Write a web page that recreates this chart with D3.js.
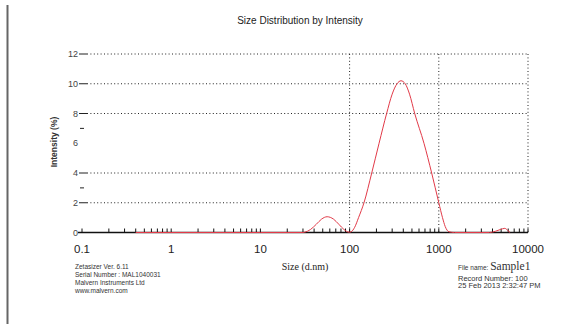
<!DOCTYPE html>
<html>
<head>
<meta charset="utf-8">
<script src="https://cdn.jsdelivr.net/npm/d3@7"></script>
<style>
  body { margin: 0; background: #fff; }
  svg { display: block; }
</style>
</head>
<body>
<svg id="chart" width="573" height="324"></svg>
<script>
// sizes (d.nm) and intensity (%)
const sizes = [0.4, 10, 30, 31.4, 36.4, 42.3, 48.5, 56, 66, 75.8, 86.5, 98.9,
  104, 114, 126, 145, 177, 214, 260, 300, 340, 377, 420, 470, 537, 682, 832,
  1000, 1100, 1180, 1300, 1500, 3700, 4300, 4900, 5500, 5900, 6300];
const intensity = [0, 0, 0, 0.02, 0.2, 0.55, 0.9, 1.06, 0.9, 0.55, 0.2, 0.02,
  0.05, 0.35, 1.0, 2.0, 4.0, 6.0, 8.0, 9.3, 10.0, 10.2, 10.0, 9.3, 8.0, 6.0, 4.0,
  2.0, 1.0, 0.4, 0.05, 0, 0, 0.08, 0.2, 0.28, 0.15, 0];

const xTicks = [0.1, 1, 10, 100, 1000, 10000];
const xTickLabels = ['0.1', '1', '10', '100', '1000', '10000'];
const xGrid = [100, 1000, 10000];
const yLabels = [0, 2, 4, 6, 8, 10, 12];
const yGrid = [2, 4, 8, 10, 12];
const yMinor = [3, 7];

const leftNotes = ['Zetasizer Ver. 6.11', 'Serial Number : MAL1040031',
  'Malvern Instruments Ltd', 'www.malvern.com'];
const rightNotes = ['Record Number: 100', '25 Feb 2013 2:32:47 PM'];

const svg = d3.select('#chart');
const x = d3.scaleLog().domain([0.1, 10000]).range([82, 528]);
const y = d3.scaleLinear().domain([0, 12]).range([232.5, 54]);

// left border
svg.append('line')
  .attr('x1', 7.5).attr('x2', 7.5).attr('y1', 5).attr('y2', 324)
  .attr('stroke', '#666').attr('stroke-width', 2);

svg.append('text')
  .attr('x', 300).attr('y', 24)
  .attr('text-anchor', 'middle')
  .attr('font-family', 'Liberation Sans, Arial, sans-serif')
  .attr('font-size', 10).attr('fill', '#222')
  .text('Size Distribution by Intensity');

// horizontal grid
svg.append('g').selectAll('line')
  .data(yGrid)
  .join('line')
  .attr('x1', x(0.1) + 5).attr('x2', x(10000))
  .attr('y1', d => y(d)).attr('y2', d => y(d))
  .attr('stroke', '#222').attr('stroke-width', 1)
  .attr('stroke-dasharray', '1,2.4');

// vertical grid
svg.append('g').selectAll('line')
  .data(xGrid)
  .join('line')
  .attr('x1', d => x(d)).attr('x2', d => x(d))
  .attr('y1', y(12)).attr('y2', y(0))
  .attr('stroke', '#222').attr('stroke-width', 1)
  .attr('stroke-dasharray', '1,2.4');

// y ticks + labels
const yAxis = svg.append('g');
yAxis.selectAll('line.major')
  .data(yGrid.concat([0]))
  .join('line')
  .attr('class', 'major')
  .attr('x1', x(0.1) - 3).attr('x2', x(0.1) + 5)
  .attr('y1', d => y(d)).attr('y2', d => y(d))
  .attr('stroke', '#222').attr('stroke-width', 1);
yAxis.selectAll('line.minor')
  .data(yMinor)
  .join('line')
  .attr('class', 'minor')
  .attr('x1', x(0.1) - 2).attr('x2', x(0.1) + 2)
  .attr('y1', d => y(d)).attr('y2', d => y(d))
  .attr('stroke', '#222').attr('stroke-width', 1);
yAxis.selectAll('text')
  .data(yLabels)
  .join('text')
  .attr('x', 78).attr('y', d => y(d) + 3)
  .attr('text-anchor', 'end')
  .attr('font-family', 'Liberation Sans, Arial, sans-serif')
  .attr('font-size', 9).attr('fill', '#444')
  .text(d => d);

svg.append('text')
  .attr('transform', 'translate(57,142) rotate(-90)')
  .attr('text-anchor', 'middle')
  .attr('font-family', 'Liberation Sans, Arial, sans-serif')
  .attr('font-size', 8.5).attr('font-weight', 'bold').attr('fill', '#333')
  .text('Intensity (%)');

// x axis with log minor ticks
const xAxis = svg.append('g');
xAxis.append('line')
  .attr('x1', x(0.1) - 4).attr('x2', x(10000))
  .attr('y1', y(0)).attr('y2', y(0))
  .attr('stroke', '#111').attr('stroke-width', 1.3);
xAxis.selectAll('line.tick')
  .data(x.ticks())
  .join('line')
  .attr('class', 'tick')
  .attr('x1', d => x(d)).attr('x2', d => x(d))
  .attr('y1', y(0)).attr('y2', y(0) - 4)
  .attr('stroke', '#111').attr('stroke-width', 1);
xAxis.selectAll('text')
  .data(xTicks)
  .join('text')
  .attr('x', d => x(d)).attr('y', 253)
  .attr('text-anchor', 'middle')
  .attr('font-family', 'Liberation Sans, Arial, sans-serif')
  .attr('font-size', 11.5).attr('fill', '#222')
  .text((d, i) => xTickLabels[i]);

svg.append('text')
  .attr('x', 305).attr('y', 270)
  .attr('text-anchor', 'middle')
  .attr('font-family', 'Liberation Serif, Times New Roman, serif')
  .attr('font-size', 10).attr('fill', '#222')
  .text('Size (d.nm)');

// distribution curve
const pts = sizes.map((s, i) => [s, intensity[i]]);
const line = d3.line()
  .x(d => x(d[0]))
  .y(d => y(d[1]))
  .curve(d3.curveMonotoneX);
svg.append('path')
  .datum(pts)
  .attr('d', line)
  .attr('fill', 'none')
  .attr('stroke', '#e23a48')
  .attr('stroke-width', 1);

// footer notes
svg.append('g').selectAll('text')
  .data(leftNotes)
  .join('text')
  .attr('x', 75).attr('y', (d, i) => 269 + i * 8)
  .attr('font-family', 'Liberation Sans, Arial, sans-serif')
  .attr('font-size', 6.5).attr('fill', '#333')
  .text(d => d);

const fileLine = svg.append('text')
  .attr('x', 458).attr('y', 270)
  .attr('font-family', 'Liberation Sans, Arial, sans-serif')
  .attr('font-size', 6.5).attr('fill', '#333');
fileLine.append('tspan').text('File name: ');
fileLine.append('tspan')
  .attr('font-family', 'Liberation Serif, Times New Roman, serif')
  .attr('font-size', 11.5)
  .text('Sample1');

svg.append('g').selectAll('text')
  .data(rightNotes)
  .join('text')
  .attr('x', 458).attr('y', (d, i) => 280.5 + i * 7.5)
  .attr('font-family', 'Liberation Sans, Arial, sans-serif')
  .attr('font-size', 7.5).attr('fill', '#333')
  .text(d => d);
</script>
</body>
</html>
